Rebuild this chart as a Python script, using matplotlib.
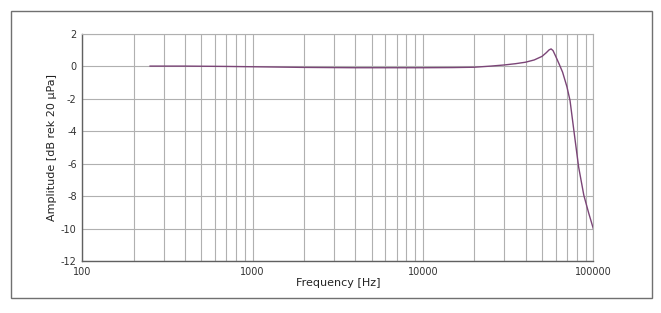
import matplotlib
matplotlib.use("Agg")
import matplotlib.pyplot as plt
from matplotlib.patches import Rectangle
from matplotlib.ticker import FixedLocator, FixedFormatter, NullFormatter

freq_hz = [250, 400, 700, 1000, 2000, 4000, 7000, 10000, 15000, 20000, 25000,
           30000, 35000, 40000, 45000, 50000, 53000, 55000, 56500, 58000, 60000,
           63000, 66000, 70000, 73000, 77000, 82000, 88000, 94000, 100000]
amp_db = [0.02, 0.02, 0.0, -0.02, -0.06, -0.08, -0.08, -0.08, -0.07, -0.05, 0.02,
          0.09, 0.17, 0.26, 0.40, 0.62, 0.85, 1.02, 1.08, 0.98, 0.65,
          0.15, -0.35, -1.25, -2.1, -4.0, -6.2, -7.95, -9.05, -10.0]

x_ticks = [100, 1000, 10000, 100000]
x_tick_labels = ["100", "1000", "10000", "100000"]
y_ticks = [2, 0, -2, -4, -6, -8, -10, -12]
y_tick_labels = ["2", "0", "-2", "-4", "-6", "-8", "-10", "-12"]

W, H = 661, 313
fig = plt.figure(figsize=(W / 100, H / 100), dpi=100)
fig.patch.set_facecolor("white")

# outer frame
fig.patches.append(Rectangle((11 / W, 1 - 298 / H), (652 - 11) / W, (298 - 11) / H,
                             transform=fig.transFigure, fill=False,
                             edgecolor="#707070", linewidth=1.0))

left, right, top, bottom = 82.3, 593.3, 34, 261
ax = fig.add_axes([left / W, 1 - bottom / H, (right - left) / W, (bottom - top) / H])
ax.set_xscale("log")
ax.set_xlim(100, 100000)
ax.set_ylim(-12, 2)

ax.plot(freq_hz, amp_db, color="#7b4577", linewidth=1.0)

minor = [m * 10 ** e for e in (2, 3, 4) for m in range(2, 10)]
ax.xaxis.set_major_locator(FixedLocator(x_ticks))
ax.xaxis.set_major_formatter(FixedFormatter(x_tick_labels))
ax.xaxis.set_minor_locator(FixedLocator(minor))
ax.xaxis.set_minor_formatter(NullFormatter())
ax.yaxis.set_major_locator(FixedLocator(y_ticks))
ax.yaxis.set_major_formatter(FixedFormatter(y_tick_labels))

ax.grid(True, which="both", axis="x", color="#b0b0b0", linewidth=0.8)
ax.grid(True, which="major", axis="y", color="#b0b0b0", linewidth=0.8)
ax.set_axisbelow(True)

for s in ("top", "right"):
    ax.spines[s].set_color("#b0b0b0")
    ax.spines[s].set_linewidth(0.8)
for s in ("left", "bottom"):
    ax.spines[s].set_color("#606060")
    ax.spines[s].set_linewidth(1.0)

ax.tick_params(which="both", length=0, labelsize=7, colors="#333333", pad=4)
ax.tick_params(axis="y", pad=4)

ax.set_xlabel("Frequency [Hz]", fontsize=8, color="#222222", labelpad=1)
ax.set_ylabel("Amplitude [dB rek 20 µPa]", fontsize=8, color="#222222", labelpad=3)

fig.savefig("out.png", dpi=100, facecolor="white")
